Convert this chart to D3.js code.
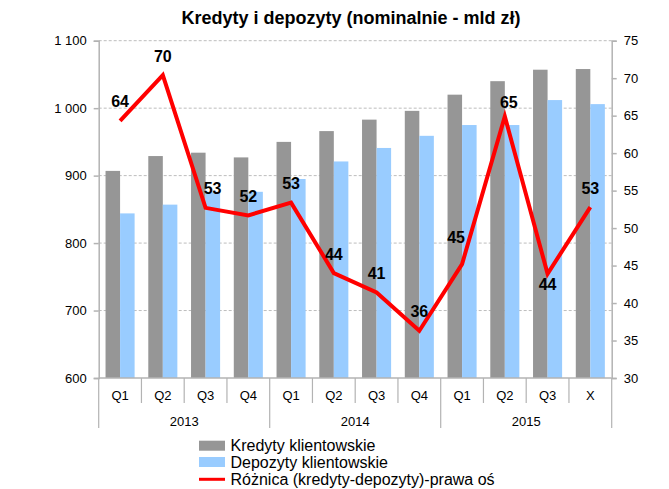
<!DOCTYPE html>
<meta charset="utf-8">
<style>
body { margin: 0; background: #fff; }
text { font-family: "Liberation Sans", Arial, sans-serif; }
</style>
<svg width="669" height="489"></svg>
<script src="https://d3js.org/d3.v7.min.js"></script>
<script>

var quarters = ["Q1", "Q2", "Q3", "Q4", "Q1", "Q2", "Q3", "Q4", "Q1", "Q2", "Q3", "X"];
var years = ["2013", "2014", "2015"];
var kredyty = [907, 929, 934, 927, 950, 966, 983, 996, 1020, 1040, 1057, 1058];
var depozyty = [844, 857, 876, 876, 895, 921, 941, 959, 975, 975, 1012, 1006];
var roznica = [64.3, 70.4, 52.7, 51.7, 53.4, 44.0, 41.4, 36.3, 45.2, 64.9, 43.9, 52.8];
var leftTicks = [600, 700, 800, 900, 1000, 1100];
var rightTicks = [30, 35, 40, 45, 50, 55, 60, 65, 70, 75];
var seriesNames = ["Kredyty klientowskie", "Depozyty klientowskie", "Różnica (kredyty-depozyty)-prawa oś"];

var svg = d3.select("svg"),
    margin = {top: 40.7, right: 57.3, bottom: 111, left: 98.7},
    width = +svg.attr("width") - margin.left - margin.right,
    height = +svg.attr("height") - margin.top - margin.bottom,
    g = svg.append("g").attr("transform", "translate(" + margin.left + "," + margin.top + ")");

var axisColor = "#b3b3b3";

var x0 = d3.scaleBand()
    .domain(d3.range(quarters.length))
    .range([0, width])
    .paddingInner(0.32)
    .paddingOuter(0.16);

var x1 = d3.scaleBand()
    .domain([0, 1])
    .range([0, x0.bandwidth()]);

var y = d3.scaleLinear().domain([600, 1100]).range([height, 0]);
var y2 = d3.scaleLinear().domain([30, 75]).range([height, 0]);
var z = ["#969696", "#99ccff"];

function cx(i) { return x0(i) + x0.bandwidth() / 2; }

// title
svg.append("text")
    .attr("x", 351)
    .attr("y", 24)
    .attr("text-anchor", "middle")
    .attr("font-size", 18)
    .attr("font-weight", "bold")
    .text("Kredyty i depozyty (nominalnie - mld zł)");

// grid
g.append("g")
  .selectAll("line")
  .data(leftTicks.slice(1))
  .enter().append("line")
    .attr("x1", 0)
    .attr("x2", width)
    .attr("y1", function(d) { return y(d); })
    .attr("y2", function(d) { return y(d); })
    .attr("stroke", "#bdbdbd")
    .attr("stroke-dasharray", "3,2");

// bars
g.append("g")
  .selectAll("g")
  .data(quarters.map(function(q, i) { return i; }))
  .enter().append("g")
    .attr("transform", function(i) { return "translate(" + x0(i) + ",0)"; })
  .selectAll("rect")
  .data(function(i) { return [kredyty[i], depozyty[i]]; })
  .enter().append("rect")
    .attr("x", function(d, j) { return x1(j); })
    .attr("y", function(d) { return y(d); })
    .attr("width", x1.bandwidth())
    .attr("height", function(d) { return height - y(d); })
    .attr("fill", function(d, j) { return z[j]; });

// left axis
var yAxis = g.append("g")
    .call(d3.axisLeft(y).tickValues(leftTicks).tickSize(5).tickPadding(7)
      .tickFormat(function(d) { return d3.format(",")(d).replace(",", " "); }));
yAxis.selectAll("path, line").attr("stroke", axisColor).attr("stroke-width", 1.5);
yAxis.selectAll("text").attr("font-size", 13).attr("fill", "#000")
    .style("font-family", "'Liberation Sans', Arial, sans-serif");

// right axis
var yAxis2 = g.append("g")
    .attr("transform", "translate(" + width + ",0)")
    .call(d3.axisRight(y2).tickValues(rightTicks).tickSize(5).tickPadding(7));
yAxis2.selectAll("path, line").attr("stroke", axisColor).attr("stroke-width", 1.5);
yAxis2.selectAll("text").attr("font-size", 13).attr("fill", "#000")
    .style("font-family", "'Liberation Sans', Arial, sans-serif");

// category axis
var xa = g.append("g").attr("transform", "translate(0," + height + ")");
xa.append("line")
    .attr("x1", 0).attr("x2", width)
    .attr("stroke", axisColor).attr("stroke-width", 1.5);
var step = x0.step();
xa.selectAll("line.div")
  .data(d3.range(quarters.length + 1))
  .enter().append("line")
    .attr("class", "div")
    .attr("x1", function(i) { return i * step; })
    .attr("x2", function(i) { return i * step; })
    .attr("y1", 0)
    .attr("y2", function(i) { return i % 4 === 0 ? 50 : 25; })
    .attr("stroke", axisColor)
    .attr("stroke-width", 1.2);
xa.selectAll("text.q")
  .data(quarters)
  .enter().append("text")
    .attr("class", "q")
    .attr("x", function(d, i) { return cx(i); })
    .attr("y", 18)
    .attr("dy", "0.32em")
    .attr("text-anchor", "middle")
    .attr("font-size", 13)
    .text(function(d) { return d; });
xa.selectAll("text.yr")
  .data(years)
  .enter().append("text")
    .attr("class", "yr")
    .attr("x", function(d, i) { return (i * 4 + 2) * step; })
    .attr("y", 44)
    .attr("dy", "0.32em")
    .attr("text-anchor", "middle")
    .attr("font-size", 13)
    .text(function(d) { return d; });

// difference line
var line = d3.line()
    .x(function(d, i) { return cx(i); })
    .y(function(d) { return y2(d); });

g.append("path")
    .datum(roznica)
    .attr("fill", "none")
    .attr("stroke", "#ff0000")
    .attr("stroke-width", 4)
    .attr("stroke-linejoin", "miter")
    .attr("d", line);

var nudge = {2: [7, 0], 8: [-6, -8], 9: [4, 5], 10: [0, 29.5]};
g.append("g")
  .selectAll("text")
  .data(roznica)
  .enter().append("text")
    .attr("x", function(d, i) { return cx(i) + (nudge[i] ? nudge[i][0] : 0); })
    .attr("y", function(d, i) { return y2(d) - 13.5 + (nudge[i] ? nudge[i][1] : 0); })
    .attr("text-anchor", "middle")
    .attr("font-size", 16)
    .attr("font-weight", "bold")
    .text(function(d) { return d3.format(".0f")(d); });

// legend
var legend = svg.append("g")
  .selectAll("g")
  .data(seriesNames)
  .enter().append("g")
    .attr("transform", function(d, i) { return "translate(199,"  + [445.7, 462, 479.3][i] + ")"; });

legend.filter(function(d, i) { return i < 2; })
  .append("rect")
    .attr("y", -5)
    .attr("width", 26)
    .attr("height", 10)
    .attr("fill", function(d, i) { return z[i]; });

legend.filter(function(d, i) { return i === 2; })
  .append("line")
    .attr("x2", 26)
    .attr("stroke", "#ff0000")
    .attr("stroke-width", 3);

legend.append("text")
    .attr("x", 31.5)
    .attr("dy", "0.35em")
    .attr("font-size", 16)
    .text(function(d) { return d; });

</script>
